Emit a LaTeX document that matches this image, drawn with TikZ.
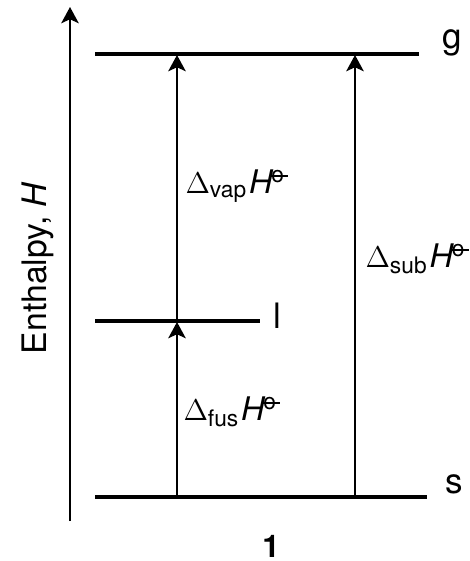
\documentclass[tikz,border=0pt]{standalone}
\usepackage{fontspec}
\setmainfont{TeX Gyre Heros}
\usetikzlibrary{arrows.meta}
\tikzset{
    level diagram/.style = {x=0.4pt, y=-0.4pt,
                            >={Stealth[length=6.5pt, width=7pt, inset=1.6pt]}},
    level/.style         = {line width=1.3pt},
    axis/.style          = {line width=0.85pt, ->},
    change/.style        = {line width=0.85pt, ->},
    phase/.style         = {font=\fontsize{14}{14}\selectfont, anchor=base west,
                            inner sep=0pt},
    quantity/.style      = {font=\fontsize{13}{13}\selectfont,
                            anchor=base west, inner sep=0pt}
}
% standard-state sign: a small circle crossed by a bar
\newcommand{\stdstate}{\textsuperscript{\rlap{\rule[0.42ex]{0.8em}{0.1em}}\kern0.05em o}}
\newcommand{\enth}[1]{$\Delta$\textsubscript{#1}\kern0.05em\textit{H}\kern-0.1em\stdstate}
\def\gasrow{54}
\def\liquidrow{321}
\def\solidrow{497}

\begin{document}
\begin{tikzpicture}[level diagram]
\useasboundingbox (0,0) rectangle (470,561);

% Enthalpy axis.
\coordinate (axis foot) at (70,521);
\coordinate (axis tip) at (70,7);
\draw[axis] (axis foot) -- (axis tip);
\node[rotate=90, font=\fontsize{13.5}{14}\selectfont] (axis label)
    at (38,268) {Enthalpy, \textit{H}};

% Levels of the three phases.
\node[phase] (g) at (442,\gasrow-6) {g};
\node[phase] (l) at (273,\liquidrow+7) {l};
\node[phase] (s) at (445,\solidrow-4) {s};
\coordinate (g start) at (95,\gasrow);
\coordinate (g end) at (419,\gasrow);
\coordinate (l start) at (95,\liquidrow);
\coordinate (l end) at (260,\liquidrow);
\coordinate (s start) at (95,\solidrow);
\coordinate (s end) at (427,\solidrow);
\draw[level] (g start) -- (g end);
\draw[level] (l start) -- (l end);
\draw[level] (s start) -- (s end);

% Phase changes: fusion and vaporisation in two steps, sublimation in one.
\coordinate (fus foot) at (177,\solidrow);
\coordinate (fus tip) at (177,\liquidrow+1);
\coordinate (vap foot) at (177,\liquidrow);
\coordinate (vap tip) at (177,\gasrow+1);
\coordinate (sub foot) at (355,\solidrow);
\coordinate (sub tip) at (355,\gasrow+1);
\draw[change] (fus foot) -- (fus tip);
\draw[change] (vap foot) -- (vap tip);
\draw[change] (sub foot) -- (sub tip);
\node[quantity] (vap) at (185,193) {\enth{vap}};
\node[quantity] (sub) at (365,267) {\enth{sub}};
\node[quantity] (fus) at (183,420) {\enth{fus}};

\node[font=\bfseries\fontsize{12.5}{12.5}\selectfont] (number) at (271,546) {1};

\end{tikzpicture}
\end{document}
